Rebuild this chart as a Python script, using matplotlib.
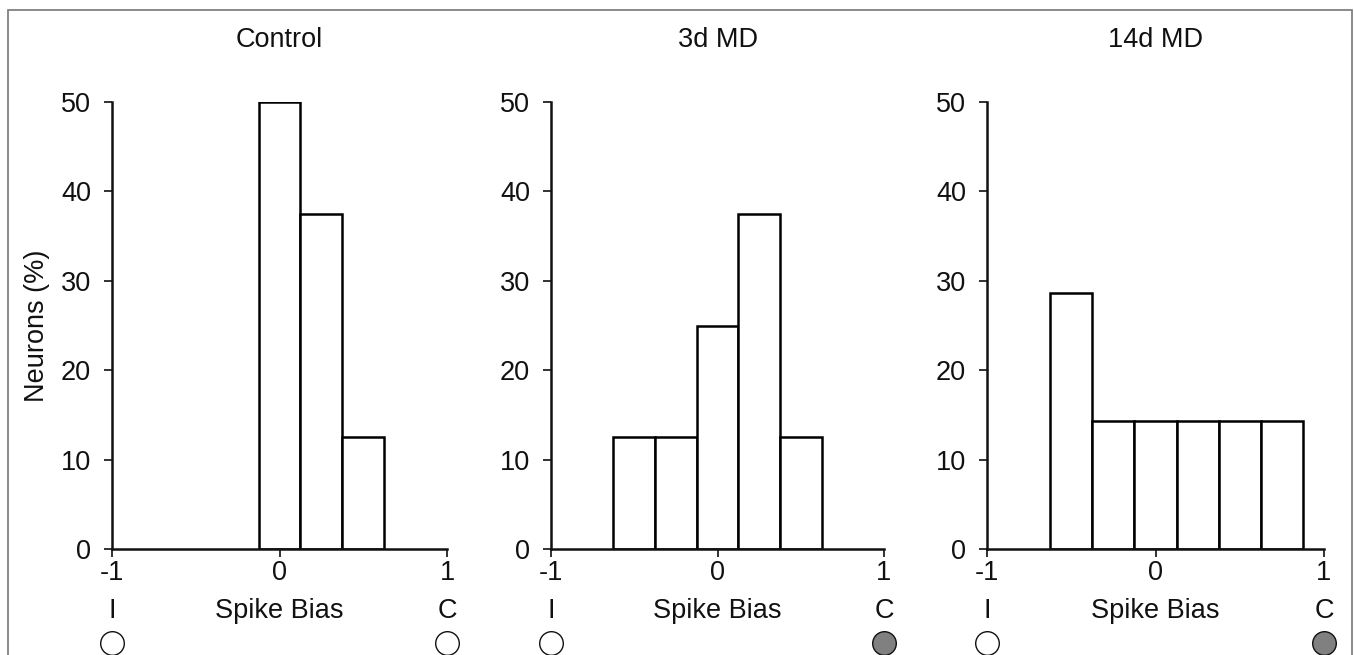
import matplotlib.pyplot as plt
from matplotlib.patches import Rectangle
from matplotlib.transforms import blended_transform_factory

plt.rcParams["font.family"] = ["Liberation Sans", "DejaVu Sans"]

BIN_WIDTH = 0.25
FS = 19.5

titles = ["Control", "3d MD", "14d MD"]
control_centers = [0.0, 0.25, 0.5]
control_pct = [50.0, 37.5, 12.5]
md3_centers = [-0.5, -0.25, 0.0, 0.25, 0.5]
md3_pct = [12.5, 12.5, 25.0, 37.5, 12.5]
md14_centers = [-0.5, -0.25, 0.0, 0.25, 0.5, 0.75]
md14_pct = [28.6, 14.3, 14.3, 14.3, 14.3, 14.3]
# fill colour of the eye markers under "I" and "C"
eye_fill = [("white", "white"), ("white", "#808080"), ("white", "#808080")]

panels = [
    (control_centers, control_pct),
    (md3_centers, md3_pct),
    (md14_centers, md14_pct),
]

W, H = 1354, 655
fig = plt.figure(figsize=(W / 100, H / 100), dpi=100)

# axes boxes in pixels: (x of -1, x of 1)
x_spans = [(112, 447), (551, 884), (987, 1324)]
y_bottom, y_top = 549, 102

for i, ((centers, pct), (x0, x1)) in enumerate(zip(panels, x_spans)):
    ax = fig.add_axes([x0 / W, 1 - y_bottom / H, (x1 - x0) / W, (y_bottom - y_top) / H])
    ax.bar(centers, pct, width=BIN_WIDTH, color="white", edgecolor="black",
           linewidth=1.8, zorder=2)
    ax.set_xlim(-1, 1)
    ax.set_ylim(0, 50)
    ax.set_xticks([-1, 0, 1])
    ax.set_xticklabels(["-1", "0", "1"])
    ax.set_yticks([0, 10, 20, 30, 40, 50])
    for side in ["top", "right"]:
        ax.spines[side].set_visible(False)
    for side in ["left", "bottom"]:
        ax.spines[side].set_linewidth(1.8)
        ax.spines[side].set_color("#111111")
        ax.spines[side].set_zorder(3)
    ax.tick_params(axis="both", labelsize=FS, length=6, width=1.3,
                   color="#222222", labelcolor="#111111")
    ax.tick_params(axis="y", pad=9)
    ax.tick_params(axis="x", pad=2)

    ax.text(0.5, 1.123, titles[i], transform=ax.transAxes, ha="center",
            va="baseline", fontsize=FS, color="#111111")

    trans = blended_transform_factory(ax.transData, ax.transAxes)
    ax.text(0, -0.155, "Spike Bias", transform=trans, ha="center",
            va="baseline", fontsize=FS, color="#111111")
    ax.text(-1, -0.155, "I", transform=trans, ha="center",
            va="baseline", fontsize=FS, color="#111111")
    ax.text(1, -0.155, "C", transform=trans, ha="center",
            va="baseline", fontsize=FS, color="#111111")
    for xpos, fill in zip([-1, 1], eye_fill[i]):
        ax.plot([xpos], [-0.211], marker="o", markersize=17,
                markerfacecolor=fill, markeredgecolor="#111111",
                markeredgewidth=1.0, transform=trans, clip_on=False)

    if i == 0:
        ax.set_ylabel("Neurons (%)", fontsize=FS, color="#111111", labelpad=8)

# thin frame around the whole figure
fig.patches.append(Rectangle((8 / W, -0.05), (1352 - 8) / W, 1.05 - 10 / H,
                             transform=fig.transFigure, fill=False,
                             edgecolor="#777777", linewidth=1.2))

fig.savefig("out.png", dpi=100)
